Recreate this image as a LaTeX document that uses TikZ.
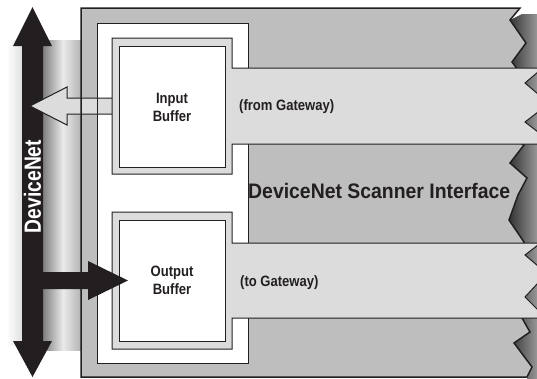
\documentclass[tikz,border=0pt]{standalone}
\usepackage{fontspec}
\setmainfont{Liberation Sans}
\usepackage{graphicx}
\definecolor{ink}{HTML}{231F20}
\definecolor{midgray}{HTML}{BEBEBE}
\definecolor{bandgray}{HTML}{DCDCDC}
\begin{document}
\begin{tikzpicture}[x=1pt,y=-1pt,line join=miter,
  outerline/.style={draw=ink,line width=1.5pt},
  thinline/.style={draw=ink,line width=1pt},
  buftext/.style={text=ink,align=center,inner sep=0pt,
    font=\fontsize{15}{18.5}\selectfont\bfseries},
  bandtext/.style={text=ink,inner sep=0pt,anchor=west,
    font=\fontsize{15}{18}\selectfont\bfseries}]
\useasboundingbox (0,0) rectangle (537,378);
\begin{scope}
\clip (0,0) rectangle (537,378);
% soft shadows left of the scanner box
\shade[left color=white,right color=black!12] (6,40) rectangle (22,345);
\shade[left color=black!50,right color=black!8] (43,40) rectangle (63,350);
\shade[left color=black!8,right color=black!30] (63,40) rectangle (81,350);
% shadow behind the torn right edge
\shade[left color=black!80,right color=black!30]
  (522,14) -- (510,20) -- (526,43) -- (512,62) -- (518,70)
  -- (518,142) -- (524,145) -- (510,163) -- (527,178) -- (518,195) -- (509,220)
  -- (524,242) -- (520,250) -- (520,316) -- (522,318) -- (530,332) -- (514,343)
  -- (532,367) -- (527,377) -- (527,383) -- (545,383) -- (545,14) -- cycle;
% DeviceNet bus arrow
\fill[ink] (32.5,7) -- (52,46) -- (43,46) -- (43,341) -- (52,341) -- (32.5,377)
  -- (13,341) -- (22,341) -- (22,46) -- (13,46) -- cycle;
\node[text=white,rotate=90,inner sep=0pt,font=\fontsize{23.5}{24}\selectfont\bfseries]
  (busname) at (32.5,186.5) {\scalebox{0.82}[1]{DeviceNet}};
% scanner box fills
\path[fill=midgray] (81,8) -- (520,8) -- (510,20) -- (526,43) -- (512,62) -- (518,70)
  -- (518,142) -- (524,145) -- (510,163) -- (527,178) -- (518,195) -- (509,220)
  -- (524,242) -- (520,250) -- (520,316) -- (522,318) -- (530,332) -- (514,343)
  -- (532,367) -- (527,377) -- (81,377) -- cycle;
\path[fill=white] (97,23) rectangle (248,363);
% input arrow (to the bus)
\coordinate (intip) at (30,106);
\fill[bandgray] (112,98) -- (67,98) -- (67,87) -- (intip) -- (67,125) -- (67,114) -- (112,114) -- cycle;
\draw[thinline] (112,98) -- (67,98) -- (67,87) -- (intip) -- (67,125) -- (67,114) -- (112,114);
% scanner box outlines
\draw[outerline] (527,377) -- (532,367) -- (514,343) -- (530,332) -- (522,318) -- (520,316)
  -- (520,250) -- (524,242) -- (509,220) -- (518,195) -- (527,178) -- (510,163) -- (524,145)
  -- (518,142) -- (518,70) -- (512,62) -- (526,43) -- (510,20) -- (520,8) -- (81,8) -- (81,377) -- (527,377);
\draw[thinline] (97,23) rectangle (248,363);
% buffer frames with gateway bands
\draw[thinline,fill=bandgray] (112,38) -- (232,38) -- (232,68) -- (545,68) -- (545,72) -- (538,72)
  -- (525,83) -- (538,94) -- (545,94) -- (545,112) -- (538,112) -- (525,122) -- (538,132)
  -- (545,132) -- (545,144) -- (232,144) -- (232,174) -- (112,174) -- cycle;
\draw[thinline,fill=bandgray] (112,212) -- (232,212) -- (232,243) -- (545,243) -- (545,245) -- (538,245)
  -- (525,255) -- (538,266) -- (545,266) -- (545,283) -- (538,283) -- (525,297) -- (538,310)
  -- (545,310) -- (545,318) -- (232,318) -- (232,349) -- (112,349) -- cycle;
% buffers
\node[thinline,fill=white,minimum width=106pt,minimum height=121pt,inner sep=0pt]
  (inbuf) at (172,106.5) {};
\node[buftext] (inlabel) at (172,107.5) {\scalebox{0.87}[1]{Input}\\\scalebox{0.87}[1]{Buffer}};
\node[thinline,fill=white,minimum width=106pt,minimum height=121pt,inner sep=0pt]
  (outbuf) at (172,280.5) {};
\node[buftext] (outlabel) at (172,280.5) {\scalebox{0.87}[1]{Output}\\\scalebox{0.87}[1]{Buffer}};
% output arrow (from the bus)
\coordinate (outtip) at (128,280.5);
\fill[ink] (43,272) -- (88,272) -- (88,261) -- (outtip) -- (88,300) -- (88,289) -- (43,289) -- cycle;
% texts
\node[bandtext] (fromgw) at (239,107) {\scalebox{0.87}[1]{(from Gateway)}};
\node[bandtext] (togw) at (240,283) {\scalebox{0.87}[1]{(to Gateway)}};
\node[text=ink,inner sep=0pt,anchor=west,font=\fontsize{21}{21}\selectfont\bfseries]
  (title) at (248,190.5) {\scalebox{0.924}[1]{DeviceNet Scanner Interface}};
\end{scope}
\end{tikzpicture}
\end{document}
